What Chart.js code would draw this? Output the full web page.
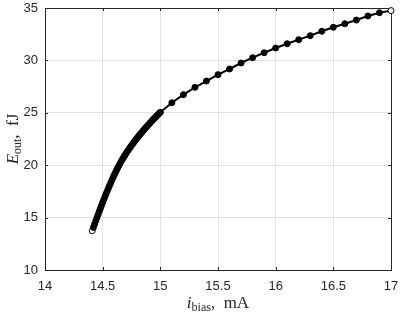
<!DOCTYPE html>
<html>
<head>
<meta charset="utf-8">
<script src="https://cdn.jsdelivr.net/npm/chart.js@4"></script>
<style>
  html, body { margin: 0; padding: 0; background: #fff; }
  #wrap { width: 400px; height: 316px; }
</style>
</head>
<body>
<div id="wrap"><canvas id="energy"></canvas></div>
<script>
// bias current (mA), dense sweep up to 15 mA then 0.1 mA steps
const biasCurrent = [
  14.41, 14.42, 14.43, 14.44, 14.45, 14.46, 14.47, 14.48, 14.49, 14.50,
  14.51, 14.52, 14.53, 14.54, 14.55, 14.56, 14.57, 14.58, 14.59, 14.60,
  14.61, 14.62, 14.63, 14.64, 14.65, 14.66, 14.67, 14.68, 14.69, 14.70,
  14.71, 14.72, 14.73, 14.74, 14.75, 14.76, 14.77, 14.78, 14.79, 14.80,
  14.81, 14.82, 14.83, 14.84, 14.85, 14.86, 14.87, 14.88, 14.89, 14.90,
  14.91, 14.92, 14.93, 14.94, 14.95, 14.96, 14.97, 14.98, 14.99, 15.00,
  15.1, 15.2, 15.3, 15.4, 15.5, 15.6, 15.7, 15.8, 15.9, 16.0,
  16.1, 16.2, 16.3, 16.4, 16.5, 16.6, 16.7, 16.8, 16.9, 17.0
];
// output energy (fJ)
const outputEnergy = [
  13.75, 14.06, 14.37, 14.68, 14.98, 15.28, 15.58, 15.87, 16.16, 16.45,
  16.73, 17.01, 17.28, 17.55, 17.81, 18.07, 18.32, 18.57, 18.82, 19.06,
  19.29, 19.51, 19.73, 19.94, 20.15, 20.35, 20.54, 20.72, 20.90, 21.08,
  21.25, 21.41, 21.57, 21.73, 21.88, 22.03, 22.18, 22.33, 22.47, 22.61,
  22.75, 22.88, 23.02, 23.15, 23.28, 23.41, 23.53, 23.66, 23.78, 23.90,
  24.02, 24.14, 24.26, 24.38, 24.49, 24.61, 24.72, 24.83, 24.94, 25.05,
  25.96, 26.73, 27.43, 28.03, 28.64, 29.18, 29.75, 30.26, 30.73, 31.18,
  31.59, 31.98, 32.36, 32.78, 33.16, 33.50, 33.85, 34.24, 34.55, 34.75
];

const xTickValues = [14, 14.5, 15, 15.5, 16, 16.5, 17];
const yTickValues = [10, 15, 20, 25, 30, 35];

const axisColor = "#262626";

// axis box with inward ticks plus the two axis labels (with subscripts)
const matlabAxes = {
  id: "matlabAxes",
  beforeDatasetsDraw(chart) {
    const ctx = chart.ctx;
    const a = chart.chartArea;
    const xs = chart.scales.x;
    const ys = chart.scales.y;
    ctx.save();
    ctx.strokeStyle = axisColor;
    ctx.lineWidth = 1;
    ctx.strokeRect(Math.round(a.left) + 0.5, Math.round(a.top) + 0.5,
      Math.round(a.right - a.left), Math.round(a.bottom - a.top));
    ctx.beginPath();
    xTickValues.forEach((v) => {
      const px = Math.round(xs.getPixelForValue(v)) + 0.5;
      ctx.moveTo(px, a.bottom); ctx.lineTo(px, a.bottom - 3);
      ctx.moveTo(px, a.top); ctx.lineTo(px, a.top + 3);
    });
    yTickValues.forEach((v) => {
      const py = Math.round(ys.getPixelForValue(v)) + 0.5;
      ctx.moveTo(a.left, py); ctx.lineTo(a.left + 3, py);
      ctx.moveTo(a.right, py); ctx.lineTo(a.right - 3, py);
    });
    ctx.stroke();

    ctx.fillStyle = axisColor;
    ctx.textBaseline = "alphabetic";
    const drawParts = (parts, cx, cy) => {
      let w = 0;
      parts.forEach((p) => { ctx.font = p.font; w += ctx.measureText(p.text).width; });
      let x = cx - w / 2;
      parts.forEach((p) => {
        ctx.font = p.font;
        ctx.fillText(p.text, x, cy + (p.dy || 0));
        x += ctx.measureText(p.text).width;
      });
    };
    const serif = "'Liberation Serif', 'DejaVu Serif', serif";
    // x label
    drawParts([
      { text: "i", font: "italic 17px " + serif },
      { text: "bias", font: "12px " + serif, dy: 3 },
      { text: ",  mA", font: "17px " + serif }
    ], (a.left + a.right) / 2, 308);
    // y label (rotated)
    ctx.translate(18, (a.top + a.bottom) / 2);
    ctx.rotate(-Math.PI / 2);
    drawParts([
      { text: "E", font: "italic 17px " + serif },
      { text: "out", font: "12px " + serif, dy: 3 },
      { text: ",  fJ", font: "17px " + serif }
    ], 0, 0);
    ctx.restore();
  }
};

const points = biasCurrent.map((x, i) => ({ x: x, y: outputEnergy[i] }));
const lastIndex = points.length - 1;

const ctx = document.getElementById("energy").getContext("2d");
const chart = new Chart(ctx, {
  type: "line",
  data: {
    datasets: [
      {
        data: points,
        clip: false,
        borderColor: "#000",
        borderWidth: 2,
        pointRadius: 3,
        pointBorderWidth: 1,
        pointBorderColor: "#000",
        pointBackgroundColor: points.map((p, i) => (i === 0 || i === lastIndex) ? "#fff" : "#000"),
        tension: 0,
      },
    ],
  },
  options: {
    responsive: true,
    maintainAspectRatio: false,
    animation: false,
    layout: {
      padding: { top: 8, right: 9, left: 0, bottom: 0 },
    },
    plugins: {
      legend: { display: false },
      tooltip: { enabled: false },
    },
    scales: {
      x: {
        type: "linear",
        min: 14,
        max: 17,
        afterBuildTicks: (scale) => { scale.ticks = xTickValues.map((v) => ({ value: v })); },
        afterFit: (scale) => { scale.height = 46; },
        grid: { color: "#e3e3e3", drawTicks: true, tickLength: 9, tickColor: "rgba(0,0,0,0)" },
        border: { display: false },
        ticks: {
          padding: 0,
          color: axisColor,
          font: { family: "'Liberation Sans', Arial, sans-serif", size: 13 },
          maxRotation: 0,
          callback: (v) => String(v),
        },
      },
      y: {
        type: "linear",
        min: 10,
        max: 35,
        afterBuildTicks: (scale) => { scale.ticks = yTickValues.map((v) => ({ value: v })); },
        afterFit: (scale) => { scale.width = 45; },
        grid: { color: "#e3e3e3", drawTicks: true, tickLength: 7, tickColor: "rgba(0,0,0,0)" },
        border: { display: false },
        ticks: {
          padding: 0,
          color: axisColor,
          font: { family: "'Liberation Sans', Arial, sans-serif", size: 13 },
          callback: (v) => String(v),
        },
      },
    },
  },
  plugins: [matlabAxes],
});
</script>
</body>
</html>
